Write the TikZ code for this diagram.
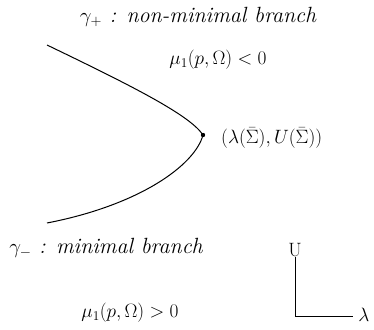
\documentclass[tikz,border=0pt]{standalone}
\usepackage{tikz}
\usetikzlibrary{positioning,calc}
\tikzset{
  texte/.style={font=\fontsize{22}{26}\selectfont\itshape, inner sep=0pt},
  formule/.style={font=\huge, scale=0.93, inner sep=0pt},
  branche/.style={line width=1pt},
  axe/.style={line width=0.8pt}
}
\begin{document}
\begin{tikzpicture}[x=1pt,y=-1pt]
      \useasboundingbox (0,0) rectangle (374,329);
      % Branche superieure : textes en haut
      \node[texte] (gplus) at (198,17) {$\gamma_+$ : non-minimal branch};
      \node[formule] (muneg) at (218,60) {$\mu_1(p,\Omega)<0$};
      % Point de retournement et son etiquette
      \fill (203,135) circle (2.2pt);
      \node[inner sep=0pt] (pt) at (203,135) {};
      \node[formule, anchor=west] (etiq) at (221,138)
        {$(\lambda(\bar\Sigma),U(\bar\Sigma))$};
      % Les deux branches de la courbe
      \coordinate (haut) at (47,45);
      \coordinate (bas) at (47,223);
      \draw[branche] (haut) .. controls (130,85) and (190,115) .. (pt.center);
      \draw[branche] (pt.center) .. controls (195,165) and (140,205) .. (bas);
      % Branche inferieure : textes en bas
      \node[texte] (gmoins) at (106,248) {$\gamma_-$ : minimal branch};
      \node[formule] (mupos) at (130,313) {$\mu_1(p,\Omega)>0$};
      % Repere (lambda, U)
      \node[formule] (axeU) at (295,250) {U};
      \coordinate (origine) at (295,316);
      \coordinate (finx) at (353,316);
      \node[formule] (axelam) at (364,315) {$\lambda$};
      \draw[axe] (axeU.south) -- (origine) -- (finx);
    \end{tikzpicture}
\end{document}
